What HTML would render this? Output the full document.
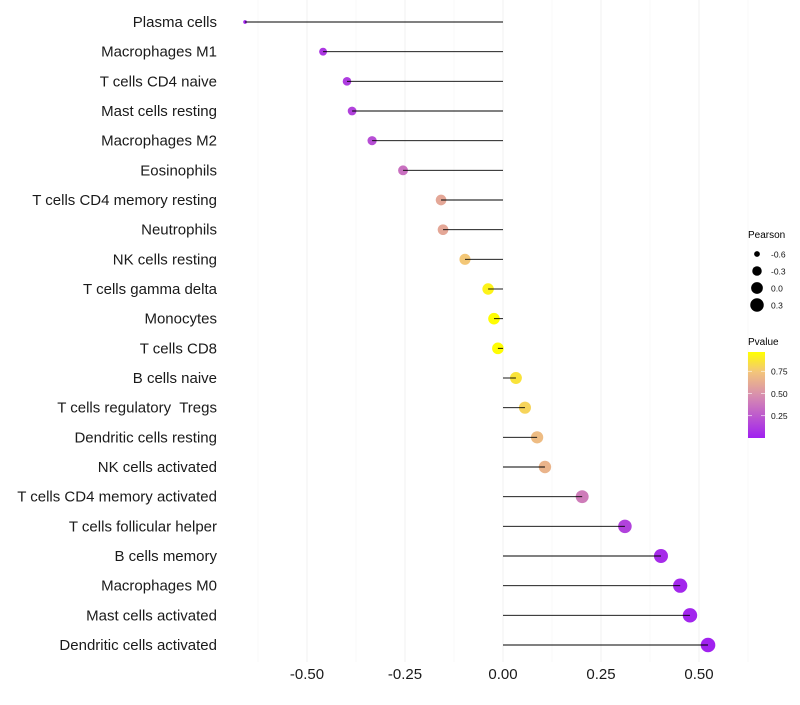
<!DOCTYPE html>
<html><head><meta charset="utf-8"><style>
body{margin:0;background:#fff;}
svg text{font-family:"Liberation Sans",sans-serif;white-space:pre;}
</style></head><body>
<svg id="chart" width="800" height="700" xmlns="http://www.w3.org/2000/svg">
<g id="grid"></g>
<g id="marks"></g>
<g id="ylabels"></g>
<g id="xlabels"></g>
<g>
<text x="748" y="238" font-size="10" fill="#000">Pearson</text>
<g id="sizeleg"></g>
</g>
<g>
<defs><linearGradient id="pg" x1="0" y1="1" x2="0" y2="0">
<stop offset="0" stop-color="#A020F0"/><stop offset="0.5" stop-color="#D88FAE"/><stop offset="0.77" stop-color="#F3C57A"/><stop offset="1" stop-color="#FFFF00"/></linearGradient></defs>
<text x="748" y="345" font-size="10" fill="#000">Pvalue</text>
<rect x="748" y="352" width="17" height="86" fill="url(#pg)"/>
<g id="colleg"></g>
</g>
</svg>
<script>
const categories=["Plasma cells","Macrophages M1","T cells CD4 naive","Mast cells resting","Macrophages M2","Eosinophils","T cells CD4 memory resting","Neutrophils","NK cells resting","T cells gamma delta","Monocytes","T cells CD8","B cells naive","T cells regulatory  Tregs","Dendritic cells resting","NK cells activated","T cells CD4 memory activated","T cells follicular helper","B cells memory","Macrophages M0","Mast cells activated","Dendritic cells activated"];
const pearson=[-0.658,-0.459,-0.398,-0.385,-0.334,-0.255,-0.158,-0.153,-0.097,-0.038,-0.023,-0.013,0.033,0.056,0.087,0.107,0.202,0.311,0.403,0.452,0.477,0.523];
const pvalue=[0.02,0.1,0.12,0.15,0.2,0.35,0.6,0.6,0.75,0.92,0.96,0.96,0.86,0.8,0.7,0.66,0.4,0.15,0.05,0.03,0.02,0.01];
const xTicks=[-0.5,-0.25,0,0.25,0.5];
const xTickLabels=["-0.50","-0.25","0.00","0.25","0.50"];
const sizeLegendVals=[-0.6,-0.3,0.0,0.3];
const sizeLegendLabels=["-0.6","-0.3","0.0","0.3"];
const colorTicks=[0.25,0.5,0.75];
const colorTickLabels=["0.25","0.50","0.75"];

const NS="http://www.w3.org/2000/svg";
const X=v=>503+v*392;
const Y=i=>22+i*(623/21);
const R=v=>1.6+5.7*Math.sqrt(Math.max(0,(v+0.66)/1.18));
const PY=p=>438-(p-0)/0.966*86;
const stops=[[0,[160,32,240]],[0.5,[216,143,174]],[0.77,[243,197,122]],[1,[255,255,0]]];
function col(p){let t=Math.max(0,Math.min(1,p/0.966));for(let k=1;k<stops.length;k++){if(t<=stops[k][0]){const a=stops[k-1],b=stops[k];const f=(t-a[0])/(b[0]-a[0]);return "rgb("+a[1].map((c,j)=>Math.round(c+(b[1][j]-c)*f)).join(",")+")";}}return "rgb(255,255,0)";}
function mk(tag,attrs,parent){const e=document.createElementNS(NS,tag);for(const k in attrs)e.setAttribute(k,attrs[k]);document.getElementById(parent).appendChild(e);return e;}

for(let v=-0.625;v<=0.63;v+=0.125){
 const major=Math.abs((v/0.25)-Math.round(v/0.25))<1e-6;
 const l=mk("line",{x1:X(v),x2:X(v),y1:0,y2:662,stroke:major?"#f0f0f0":"#f7f7f7","stroke-width":major?1:0.6},"grid");
 
 
}
categories.forEach((c,i)=>{
 const y=Y(i);
 const t=mk("text",{x:217,y:y+5,"text-anchor":"end","font-size":"15",fill:"#1a1a1a"},"ylabels");t.textContent=c;
 
 
 const pt=mk("circle",{cx:X(pearson[i]),cy:y,r:R(pearson[i]),fill:col(pvalue[i])},"marks");
 
 
 const ln=mk("line",{x1:X(0),x2:X(pearson[i]),y1:y,y2:y,stroke:"#000","stroke-width":0.9},"marks");
 
 
});
xTicks.forEach((v,i)=>{
 const t=mk("text",{x:X(v),y:679,"text-anchor":"middle","font-size":"15",fill:"#1a1a1a"},"xlabels");t.textContent=xTickLabels[i];
 
 
});
sizeLegendVals.forEach((v,i)=>{
 const y=254+i*17;
 const c=mk("circle",{cx:757,cy:y,r:R(v),fill:"#000"},"sizeleg");
 
 
 const t=mk("text",{x:771,y:y+3.5,"font-size":"8.5",fill:"#111"},"sizeleg");t.textContent=sizeLegendLabels[i];
 
 
});
colorTicks.forEach((v,i)=>{
 const y=PY(v);
 const l=mk("line",{x1:748,x2:752,y1:y,y2:y,stroke:"#fff","stroke-width":0.6},"colleg");
 
 
 const l2=mk("line",{x1:761,x2:765,y1:y,y2:y,stroke:"#fff","stroke-width":0.6},"colleg");
 
 
 const t=mk("text",{x:771,y:y+3.5,"font-size":"8.5",fill:"#111"},"colleg");t.textContent=colorTickLabels[i];
 
 
});
</script>
</body></html>
